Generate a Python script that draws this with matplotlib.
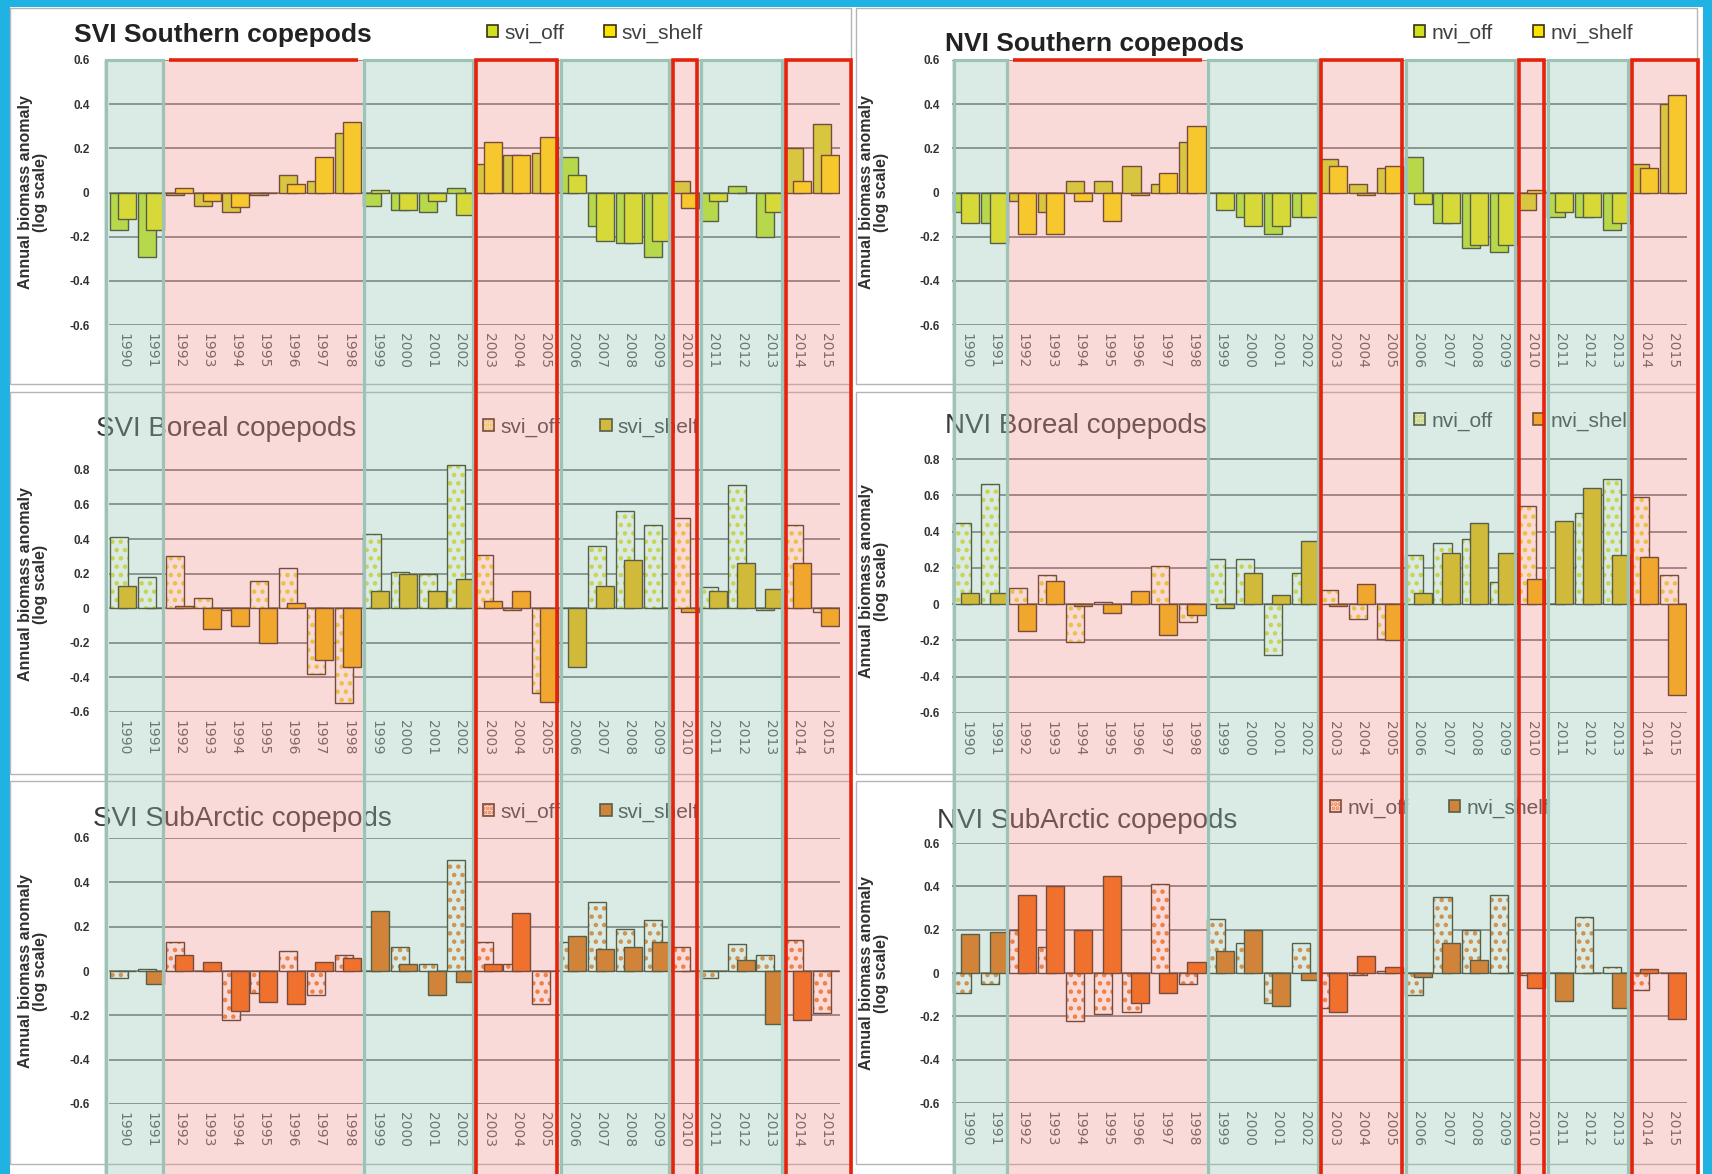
import numpy as np
import matplotlib.pyplot as plt
from matplotlib.patches import Rectangle, Patch
from matplotlib.legend_handler import HandlerTuple

plt.rcParams['font.family'] = ['Liberation Sans', 'DejaVu Sans']
plt.rcParams['hatch.linewidth'] = 2.0

W, H = 1712, 1174

years = list(range(1990, 2016))

# annual biomass anomalies (log scale)
svi_south_off = [-0.17, -0.29, -0.01, -0.06, -0.09, -0.01, 0.08, 0.05, 0.27, -0.06, -0.08, -0.09, 0.02,
                 0.13, 0.17, 0.18, 0.16, -0.15, -0.23, -0.29, 0.05, -0.13, 0.03, -0.20, 0.20, 0.31]
svi_south_shelf = [-0.12, -0.17, 0.02, -0.04, -0.065, 0.0, 0.04, 0.16, 0.32, 0.01, -0.08, -0.04, -0.10,
                   0.23, 0.17, 0.25, 0.08, -0.22, -0.23, -0.22, -0.07, -0.04, 0.0, -0.09, 0.05, 0.17]
nvi_south_off = [-0.09, -0.14, -0.04, -0.09, 0.05, 0.05, 0.12, 0.04, 0.23, 0.0, -0.11, -0.19, -0.11,
                 0.15, 0.04, 0.11, 0.16, -0.14, -0.25, -0.27, -0.08, -0.11, -0.11, -0.17, 0.13, 0.40]
nvi_south_shelf = [-0.14, -0.23, -0.19, -0.19, -0.04, -0.13, -0.01, 0.09, 0.30, -0.08, -0.15, -0.15, -0.11,
                   0.12, -0.01, 0.12, -0.05, -0.14, -0.24, -0.24, 0.01, -0.09, -0.11, -0.14, 0.11, 0.44]
svi_boreal_off = [0.41, 0.18, 0.30, 0.06, -0.01, 0.16, 0.23, -0.38, -0.55, 0.43, 0.21, 0.20, 0.83,
                  0.31, -0.01, -0.49, 0.0, 0.36, 0.56, 0.48, 0.52, 0.12, 0.71, -0.01, 0.48, -0.02]
svi_boreal_shelf = [0.13, 0.0, 0.01, -0.12, -0.10, -0.20, 0.03, -0.30, -0.34, 0.10, 0.20, 0.10, 0.17,
                    0.04, 0.10, -0.54, -0.34, 0.13, 0.28, 0.0, -0.02, 0.10, 0.26, 0.11, 0.26, -0.10]
nvi_boreal_off = [0.45, 0.66, 0.09, 0.16, -0.21, 0.01, 0.0, 0.21, -0.10, 0.25, 0.25, -0.28, 0.17,
                  0.08, -0.08, -0.19, 0.27, 0.34, 0.36, 0.12, 0.54, 0.0, 0.50, 0.69, 0.59, 0.16]
nvi_boreal_shelf = [0.06, 0.06, -0.15, 0.13, -0.01, -0.05, 0.07, -0.17, -0.06, -0.02, 0.17, 0.05, 0.35,
                    -0.01, 0.11, -0.20, 0.06, 0.28, 0.45, 0.28, 0.14, 0.46, 0.64, 0.27, 0.26, -0.50]
svi_sub_off = [-0.03, 0.01, 0.13, 0.0, -0.22, -0.10, 0.09, -0.11, 0.07, 0.0, 0.11, 0.03, 0.50,
               0.13, 0.03, -0.15, 0.13, 0.31, 0.19, 0.23, 0.11, -0.03, 0.12, 0.07, 0.14, -0.19]
svi_sub_shelf = [0.0, -0.06, 0.07, 0.04, -0.18, -0.14, -0.15, 0.04, 0.06, 0.27, 0.03, -0.11, -0.05,
                 0.03, 0.26, 0.0, 0.16, 0.10, 0.11, 0.13, 0.0, 0.0, 0.05, -0.24, -0.22, 0.0]
nvi_sub_off = [-0.09, -0.05, 0.20, 0.12, -0.22, -0.19, -0.18, 0.41, -0.05, 0.25, 0.14, -0.14, 0.14,
               -0.16, -0.01, 0.01, -0.10, 0.35, 0.20, 0.36, -0.01, 0.0, 0.26, 0.03, -0.08, 0.0]
nvi_sub_shelf = [0.18, 0.19, 0.36, 0.40, 0.20, 0.45, -0.14, -0.09, 0.05, 0.10, 0.20, -0.15, -0.03,
                 -0.18, 0.08, 0.03, -0.02, 0.14, 0.06, 0.0, -0.07, -0.13, 0.0, -0.16, 0.02, -0.21]

# cool / warm periods; warm ones listed in boxed get a red frame
periods = [(1990, 1991, 0), (1992, 1998, 1), (1999, 2002, 0), (2003, 2005, 1),
           (2006, 2009, 0), (2010, 2010, 1), (2011, 2013, 0), (2014, 2015, 1)]
boxed = [2003, 2010, 2014]

edge = '#3d2e16'
styles = {
    'south': dict(off='#cde21c', hatch=None, shelf='#fbe400'),
    'boreal': dict(off='#e9db1e', hatch='..', shelf='#f2b400'),
    'sub': dict(off='#f07a1e', hatch='..', shelf='#f06400'),
}

panels = [
    dict(title='SVI Southern copepods', bold=True, off=svi_south_off, shelf=svi_south_shelf,
         names=('svi_off', 'svi_shelf'), st='south', px=(109, 60, 840, 325), top=0.6,
         tpos=(74, 35), lpos=(487, 33)),
    dict(title='NVI Southern copepods', bold=True, off=nvi_south_off, shelf=nvi_south_shelf,
         names=('nvi_off', 'nvi_shelf'), st='south', px=(952, 60, 1687, 325), top=0.6,
         tpos=(945, 44), lpos=(1414, 33)),
    dict(title='SVI Boreal copepods', bold=False, off=svi_boreal_off, shelf=svi_boreal_shelf,
         names=('svi_off', 'svi_shelf'), st='boreal', px=(109, 456, 840, 712), top=0.88,
         tpos=(96, 429), lpos=(483, 427)),
    dict(title='NVI Boreal copepods', bold=False, off=nvi_boreal_off, shelf=nvi_boreal_shelf,
         names=('nvi_off', 'nvi_shelf'), st='boreal', px=(952, 450, 1687, 713), top=0.85,
         tpos=(945, 426), lpos=(1414, 421)),
    dict(title='SVI SubArctic copepods', bold=False, off=svi_sub_off, shelf=svi_sub_shelf,
         names=('svi_off', 'svi_shelf'), st='sub', px=(109, 838, 840, 1104), top=0.6,
         tpos=(93, 819), lpos=(483, 812)),
    dict(title='NVI SubArctic copepods', bold=False, off=nvi_sub_off, shelf=nvi_sub_shelf,
         names=('nvi_off', 'nvi_shelf'), st='sub', px=(952, 843, 1687, 1103), top=0.6,
         tpos=(937, 821), lpos=(1330, 808)),
]


def box(x0, y0, x1, y1):
    return [x0 / W, 1 - y1 / H, (x1 - x0) / W, (y1 - y0) / H]


def fxy(x, y):
    return (x / W, 1 - y / H)


fig = plt.figure(figsize=(W / 100, H / 100), dpi=100, facecolor='#1fb2e2')
fig.add_artist(Rectangle(fxy(10, 1174), 1693 / W, 1167 / H, transform=fig.transFigure,
                         fc='white', ec='none', zorder=-10))

# panel frames
for cx0, cx1 in [(10, 851), (856, 1697)]:
    for ry0, ry1 in [(8, 384), (392, 774), (781, 1164)]:
        fig.add_artist(Rectangle(fxy(cx0, ry1), (cx1 - cx0) / W, (ry1 - ry0) / H,
                                 transform=fig.transFigure, fill=False, ec='#b5b5b5',
                                 lw=1.0, zorder=-5))

x = np.arange(len(years))
w = 0.64

for i, p in enumerate(panels):
    s = styles[p['st']]
    x0, y0, x1, y1 = p['px']
    ax = fig.add_axes(box(x0, y0, x1, y1), zorder=1)
    ax.set_facecolor('none')
    if s['hatch']:
        ax.bar(x - 0.15, p['off'], w, color='white', edgecolor=s['off'], hatch=s['hatch'], lw=0, zorder=2)
        ax.bar(x - 0.15, p['off'], w, fill=False, edgecolor=edge, lw=1.0, zorder=2.1)
        h_off = (Patch(fc='white', ec=s['off'], hatch='....', lw=0), Patch(fc='none', ec=edge, lw=1.2))
    else:
        ax.bar(x - 0.15, p['off'], w, color=s['off'], edgecolor=edge, lw=1.0, zorder=2)
        h_off = Patch(fc=s['off'], ec=edge, lw=1.2)
    ax.bar(x + 0.15, p['shelf'], w, color=s['shelf'], edgecolor=edge, lw=1.0, zorder=3)
    h_shelf = Patch(fc=s['shelf'], ec=edge, lw=1.2)

    ax.set_xlim(-0.5, len(years) - 0.5)
    ax.set_ylim(-0.6, p['top'])
    ticks = np.round(np.arange(-0.6, p['top'] + 0.001, 0.2), 1)
    ax.set_yticks(ticks)
    ax.set_yticklabels(['0' if t == 0 else f'{t:.1f}' for t in ticks],
                       fontsize=8.5, fontweight='bold', color='#333333')
    ax.set_xticks(x)
    ax.set_xticklabels(years, rotation=270, fontsize=10, color='#555555', family='DejaVu Sans')
    ax.tick_params(axis='both', length=0)
    ax.tick_params(axis='x', pad=6)
    ax.tick_params(axis='y', pad=14 if i % 2 == 0 else 9)
    for sp in ax.spines.values():
        sp.set_visible(False)
    ax.yaxis.grid(True, color='#7a7a7a', lw=1.3)
    ax.set_axisbelow(True)

    lx = -0.104 if i % 2 == 0 else -0.106
    ax.text(lx, 0.5, 'Annual biomass anomaly\n(log scale)', transform=ax.transAxes,
            rotation=90, ha='center', va='center', fontsize=11.5, fontweight='bold',
            color='#303030', linespacing=1.0)

    tx, ty = p['tpos']
    ax.text(*fxy(tx, ty), p['title'], transform=fig.transFigure, ha='left', va='center',
            fontsize=19 if p['bold'] else 20, fontweight='bold' if p['bold'] else 'normal',
            color='#222222' if p['bold'] else '#3a3a3a')

    lgx, lgy = p['lpos']
    ax.legend([h_off, h_shelf], list(p['names']), loc='center left',
              bbox_to_anchor=fxy(lgx, lgy), bbox_transform=fig.transFigure,
              ncol=2, frameon=False, fontsize=15, handlelength=0.55, handleheight=0.55,
              handletextpad=0.3, columnspacing=1.9, borderpad=0, borderaxespad=0,
              labelcolor='#404040', handler_map={tuple: HandlerTuple(ndivide=1)})

# regime shading overlaid on each column
cool_fc, warm_fc = '#8fc4b0', '#f08c8c'
cool_ec, red = '#9cc3b5', '#e4230c'
for (cx0, cx1), (pad_l, pad_r) in [((109, 840), (0.18, 0.46)), ((952, 1687), (0.0, 0.46))]:
    ov = fig.add_axes(box(cx0, 60, cx1, 1174), zorder=5)
    ov.set_xlim(-0.5, len(years) - 0.5)
    ov.set_ylim(0, 1)
    ov.axis('off')
    for k, (ya, yb, warm) in enumerate(periods):
        left = ya - years[0] - 0.5
        right = yb - years[0] + 0.5
        if k == 0:
            left -= pad_l
        if k == len(periods) - 1:
            right += pad_r
        ov.add_patch(Rectangle((left, -0.02), right - left, 1.02, fc=warm_fc if warm else cool_fc,
                               alpha=0.33, lw=0, clip_on=False))
        d = 0.07
        if not warm:
            ov.add_patch(Rectangle((left + d, -0.02), right - left - 2 * d, 1.02, fill=False,
                                   ec=cool_ec, lw=2.3, clip_on=False))
        elif ya in boxed:
            ov.add_patch(Rectangle((left + d, -0.02), right - left - 2 * d, 1.02, fill=False,
                                   ec=red, lw=2.6, clip_on=False))
        else:
            ov.plot([left + 0.15, right - 0.15], [1, 1], color=red, lw=2.6, clip_on=False,
                    solid_capstyle='butt')

fig.savefig('out.png', dpi=100, facecolor=fig.get_facecolor())
